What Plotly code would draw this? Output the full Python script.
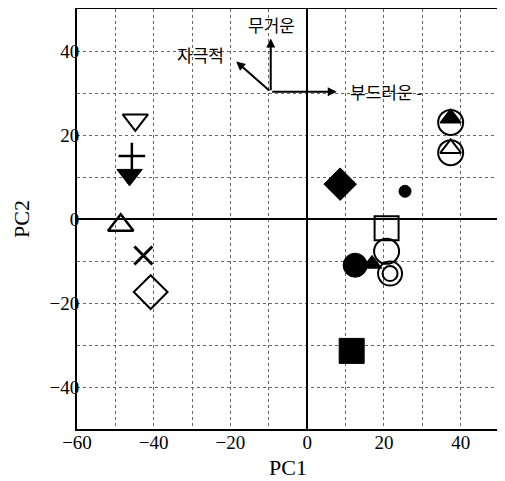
import plotly.graph_objects as go

# sample scores (PC1, PC2)
pc1 = [-44.8, -45.7, -46.3, -48.6, -42.7, -40.8, 8.6, 25.5, 37.4, 37.4, 20.7, 20.7, 12.5, 16.9, 21.6, 11.6]
pc2 = [23.6, 15.0, 10.5, -1.5, -8.7, -17.4, 8.3, 6.6, 23.0, 15.8, -2.2, -7.7, -11.0, -10.7, -13.0, -31.4]

# attribute vectors (origin and tips)
vec_origin = (-9.5, 30.3)
vec_labels = ["무거운", "자극적", "부드러운 -"]
vec_tips_x = [-9.5, -18.5, 7.7]
vec_tips_y = [43.0, 37.5, 30.3]

x_ticks = [-60, -40, -20, 0, 20, 40]
y_ticks = [-40, -20, 0, 20, 40]

# marker styles (one per sample); composite markers use extra overlay layers
styles = [
    dict(symbol="triangle-down-open", size=22, line=2),
    dict(symbol="cross-thin-open", size=19, line=2.5),
    dict(symbol="triangle-down", size=22, line=1),
    dict(symbol="triangle-up-open", size=22, line=2.5),
    dict(symbol="x-thin-open", size=18, line=3),
    dict(symbol="diamond-open", size=26, line=2),
    dict(symbol="diamond", size=25, line=1),
    dict(symbol="circle", size=12, line=1),
    dict(symbol="circle-open", size=25, line=2),
    dict(symbol="circle-open", size=25, line=2),
    dict(symbol="square-open", size=24, line=2),
    dict(symbol="circle-open", size=25, line=2),
    dict(symbol="circle", size=24, line=1),
    dict(symbol="triangle-up", size=17, line=1),
    dict(symbol="circle-open", size=24, line=2),
    dict(symbol="square", size=25, line=1),
]
overlays = {
    8: dict(symbol="triangle-up", size=18, line=1.5, dy=1.0),
    9: dict(symbol="triangle-up-open", size=18, line=2, dy=1.0),
    14: dict(symbol="circle-open", size=15, line=2, dy=0),
}

fig = go.Figure()
for i, (x, y) in enumerate(zip(pc1, pc2)):
    s = styles[i]
    fig.add_trace(go.Scatter(
        x=[x], y=[y], mode="markers", showlegend=False,
        marker=dict(symbol=s["symbol"], size=s["size"], color="black",
                    line=dict(color="black", width=s["line"])),
    ))
    if i in overlays:
        o = overlays[i]
        fig.add_trace(go.Scatter(
            x=[x], y=[y + o["dy"]], mode="markers", showlegend=False,
            marker=dict(symbol=o["symbol"], size=o["size"], color="black",
                        line=dict(color="black", width=o["line"])),
        ))

annotations = []
for tx, ty in zip(vec_tips_x, vec_tips_y):
    annotations.append(dict(
        x=tx, y=ty, ax=vec_origin[0], ay=vec_origin[1], xref="x", yref="y",
        axref="x", ayref="y", showarrow=True, arrowhead=2, arrowsize=0.9,
        arrowwidth=2, arrowcolor="black", text="",
    ))
label_font = dict(family="Noto Sans CJK KR", size=17, color="black")
annotations.append(dict(x=vec_tips_x[0], y=vec_tips_y[0], xshift=1, yshift=-1, text=vec_labels[0],
                        showarrow=False, xanchor="center", yanchor="bottom", font=label_font))
annotations.append(dict(x=vec_tips_x[1], y=vec_tips_y[1], xshift=-10, yshift=-7, text=vec_labels[1],
                        showarrow=False, xanchor="right", yanchor="bottom", font=label_font))
annotations.append(dict(x=vec_tips_x[2], y=vec_tips_y[2], xshift=11, text=vec_labels[2],
                        showarrow=False, xanchor="left", yanchor="middle", font=label_font))
title_font = dict(family="Liberation Serif", size=22, color="black")
annotations.append(dict(x=0.5, y=0, xref="paper", yref="paper", yshift=-24, text="PC1",
                        showarrow=False, xanchor="center", yanchor="top", font=title_font))
annotations.append(dict(x=0, y=0.5, xref="paper", yref="paper", xshift=-56, text="PC2", textangle=-90,
                        showarrow=False, xanchor="center", yanchor="middle", font=title_font))

axis_common = dict(
    showline=True, linecolor="black", linewidth=2, mirror=True,
    showgrid=True, gridcolor="#666666", gridwidth=1, griddash="dot",
    zeroline=True, zerolinecolor="black", zerolinewidth=1.5,
    ticks="", automargin=False,
    tickfont=dict(family="Liberation Serif", size=19, color="black"),
    minor=dict(dtick=10, showgrid=True, gridcolor="#666666", gridwidth=1, griddash="dot"),
)

fig.update_layout(
    width=497, height=473,
    margin=dict(l=69, r=6, t=1, b=52, autoexpand=False),
    paper_bgcolor="white", plot_bgcolor="white",
    annotations=annotations,
    xaxis=dict(range=[-60, 50], tickvals=x_ticks, ticklabelstandoff=-5, **axis_common),
    yaxis=dict(range=[-50, 50], tickvals=y_ticks, ticklabelstandoff=-8, **axis_common),
)

fig.write_html("out.html")
